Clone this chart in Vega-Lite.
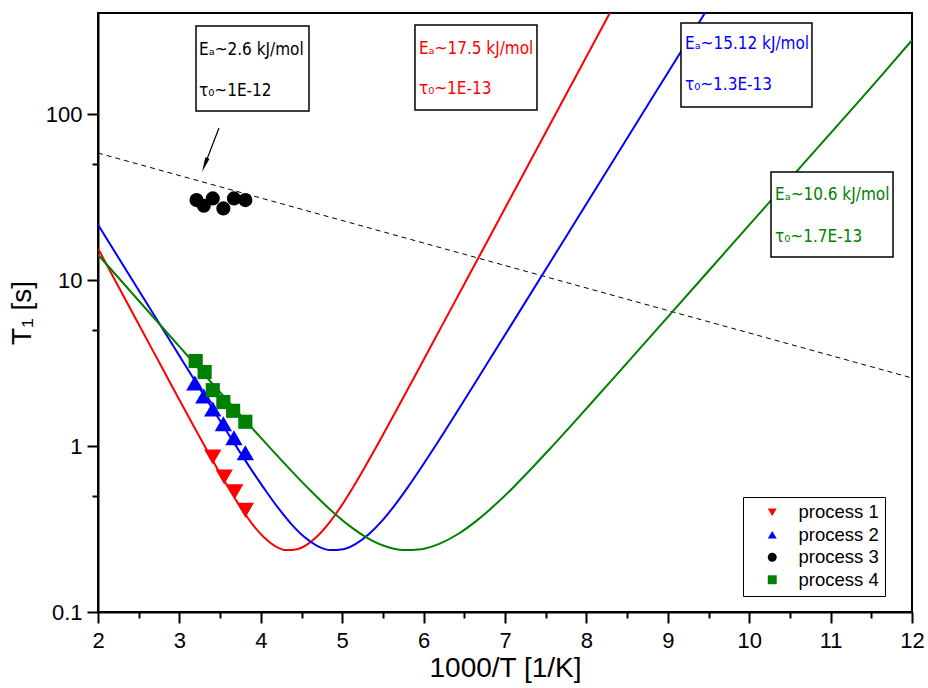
{
  "$schema": "https://vega.github.io/schema/vega-lite/v6.json",
  "width": 814,
  "height": 599,
  "autosize": "none",
  "padding": {"left": 98, "top": 13, "right": 16, "bottom": 76},
  "background": "white",
  "view": {"stroke": "black", "strokeWidth": 2},
  "config": {
    "axis": {"domainColor": "black", "domainWidth": 2, "tickColor": "black", "tickWidth": 2, "labelColor": "black", "titleColor": "black", "labelFont": "Liberation Sans", "titleFont": "Liberation Sans", "labelFontSize": 22, "titleFontSize": 28, "titleFontWeight": "normal", "grid": false, "labelOverlap": false, "labelFlush": false},
    "legend": {"labelFont": "Liberation Sans", "labelFontSize": 18.5, "labelColor": "black"}
  },
  "datasets": {
    "curves": [
      {"process": "process 1", "x": 2, "T": 15.49}, {"process": "process 1", "x": 2.397, "T": 6.71}, {"process": "process 1", "x": 2.671, "T": 3.78}, {"process": "process 1", "x": 2.944, "T": 2.13}, {"process": "process 1", "x": 3.218, "T": 1.206}, {"process": "process 1", "x": 3.491, "T": 0.694}, {"process": "process 1", "x": 3.628, "T": 0.5337}, {"process": "process 1", "x": 3.765, "T": 0.4175}, {"process": "process 1", "x": 3.901, "T": 0.3359}, {"process": "process 1", "x": 4.038, "T": 0.2818}, {"process": "process 1", "x": 4.175, "T": 0.2497}, {"process": "process 1", "x": 4.312, "T": 0.2362}, {"process": "process 1", "x": 4.448, "T": 0.2391}, {"process": "process 1", "x": 4.585, "T": 0.2581}, {"process": "process 1", "x": 4.722, "T": 0.295}, {"process": "process 1", "x": 4.859, "T": 0.3538}, {"process": "process 1", "x": 4.996, "T": 0.4406}, {"process": "process 1", "x": 5.132, "T": 0.563}, {"process": "process 1", "x": 5.269, "T": 0.7322}, {"process": "process 1", "x": 5.406, "T": 0.962}, {"process": "process 1", "x": 5.679, "T": 1.688}, {"process": "process 1", "x": 5.953, "T": 2.99}, {"process": "process 1", "x": 6.226, "T": 5.311}, {"process": "process 1", "x": 6.773, "T": 16.78}, {"process": "process 1", "x": 7.32, "T": 53.06}, {"process": "process 1", "x": 7.868, "T": 167.8}, {"process": "process 1", "x": 8.415, "T": 530.7},
      {"process": "process 2", "x": 2, "T": 21.53}, {"process": "process 2", "x": 2.641, "T": 6.71}, {"process": "process 2", "x": 2.957, "T": 3.78}, {"process": "process 2", "x": 3.273, "T": 2.13}, {"process": "process 2", "x": 3.59, "T": 1.206}, {"process": "process 2", "x": 3.906, "T": 0.694}, {"process": "process 2", "x": 4.065, "T": 0.5337}, {"process": "process 2", "x": 4.223, "T": 0.4175}, {"process": "process 2", "x": 4.381, "T": 0.3359}, {"process": "process 2", "x": 4.539, "T": 0.2818}, {"process": "process 2", "x": 4.697, "T": 0.2497}, {"process": "process 2", "x": 4.856, "T": 0.2362}, {"process": "process 2", "x": 5.014, "T": 0.2391}, {"process": "process 2", "x": 5.172, "T": 0.2581}, {"process": "process 2", "x": 5.33, "T": 0.295}, {"process": "process 2", "x": 5.489, "T": 0.3538}, {"process": "process 2", "x": 5.647, "T": 0.4406}, {"process": "process 2", "x": 5.805, "T": 0.563}, {"process": "process 2", "x": 5.963, "T": 0.7322}, {"process": "process 2", "x": 6.122, "T": 0.962}, {"process": "process 2", "x": 6.438, "T": 1.688}, {"process": "process 2", "x": 6.754, "T": 2.99}, {"process": "process 2", "x": 7.071, "T": 5.311}, {"process": "process 2", "x": 7.704, "T": 16.78}, {"process": "process 2", "x": 8.337, "T": 53.06}, {"process": "process 2", "x": 8.97, "T": 167.8}, {"process": "process 2", "x": 9.603, "T": 530.7},
      {"process": "process 4", "x": 2, "T": 14.22}, {"process": "process 4", "x": 2.588, "T": 6.71}, {"process": "process 4", "x": 3.039, "T": 3.78}, {"process": "process 4", "x": 3.491, "T": 2.13}, {"process": "process 4", "x": 3.942, "T": 1.206}, {"process": "process 4", "x": 4.393, "T": 0.694}, {"process": "process 4", "x": 4.619, "T": 0.5337}, {"process": "process 4", "x": 4.844, "T": 0.4175}, {"process": "process 4", "x": 5.07, "T": 0.3359}, {"process": "process 4", "x": 5.296, "T": 0.2818}, {"process": "process 4", "x": 5.521, "T": 0.2497}, {"process": "process 4", "x": 5.747, "T": 0.2362}, {"process": "process 4", "x": 5.972, "T": 0.2391}, {"process": "process 4", "x": 6.198, "T": 0.2581}, {"process": "process 4", "x": 6.424, "T": 0.295}, {"process": "process 4", "x": 6.649, "T": 0.3538}, {"process": "process 4", "x": 6.875, "T": 0.4406}, {"process": "process 4", "x": 7.101, "T": 0.563}, {"process": "process 4", "x": 7.326, "T": 0.7322}, {"process": "process 4", "x": 7.552, "T": 0.962}, {"process": "process 4", "x": 8.003, "T": 1.688}, {"process": "process 4", "x": 8.454, "T": 2.99}, {"process": "process 4", "x": 8.906, "T": 5.311}, {"process": "process 4", "x": 9.808, "T": 16.78}, {"process": "process 4", "x": 10.711, "T": 53.06}, {"process": "process 4", "x": 11.613, "T": 167.8}, {"process": "process 4", "x": 12, "T": 278.6}
    ],
    "points": [
      {"process": "process 1", "x": 3.41, "T": 0.86}, {"process": "process 1", "x": 3.55, "T": 0.65}, {"process": "process 1", "x": 3.68, "T": 0.53}, {"process": "process 1", "x": 3.81, "T": 0.41},
      {"process": "process 2", "x": 3.19, "T": 2.4}, {"process": "process 2", "x": 3.3, "T": 2.0}, {"process": "process 2", "x": 3.41, "T": 1.67}, {"process": "process 2", "x": 3.54, "T": 1.36}, {"process": "process 2", "x": 3.67, "T": 1.12}, {"process": "process 2", "x": 3.81, "T": 0.91},
      {"process": "process 3", "x": 3.21, "T": 30.3}, {"process": "process 3", "x": 3.3, "T": 28.0}, {"process": "process 3", "x": 3.41, "T": 31.0}, {"process": "process 3", "x": 3.54, "T": 27.0}, {"process": "process 3", "x": 3.67, "T": 31.0}, {"process": "process 3", "x": 3.81, "T": 30.3},
      {"process": "process 4", "x": 3.2, "T": 3.25}, {"process": "process 4", "x": 3.31, "T": 2.79}, {"process": "process 4", "x": 3.41, "T": 2.17}, {"process": "process 4", "x": 3.54, "T": 1.84}, {"process": "process 4", "x": 3.66, "T": 1.63}, {"process": "process 4", "x": 3.81, "T": 1.4}
    ],
    "dashed": [{"x": 2, "T": 58.2}, {"x": 12, "T": 2.57}],
    "boxes": [
      {"x1": 3.204, "x2": 4.592, "y1": 338.8, "y2": 104.3},
      {"x1": 5.894, "x2": 7.393, "y1": 343.6, "y2": 105.7},
      {"x1": 9.162, "x2": 10.771, "y1": 353, "y2": 110.2},
      {"x1": 10.268, "x2": 11.767, "y1": 44.8, "y2": 13.76}
    ],
    "labels": [
      {"process": "process 3", "x": 3.241, "T": 243, "label": "Eₐ~2.6 kJ/mol"},
      {"process": "process 3", "x": 3.241, "T": 137.7, "label": "τ₀~1E-12"},
      {"process": "process 1", "x": 5.943, "T": 248, "label": "Eₐ~17.5 kJ/mol"},
      {"process": "process 1", "x": 5.943, "T": 141.6, "label": "τ₀~1E-13"},
      {"process": "process 2", "x": 9.211, "T": 264, "label": "Eₐ~15.12 kJ/mol"},
      {"process": "process 2", "x": 9.211, "T": 149.6, "label": "τ₀~1.3E-13"},
      {"process": "process 4", "x": 10.317, "T": 32.5, "label": "Eₐ~10.6 kJ/mol"},
      {"process": "process 4", "x": 10.317, "T": 18.2, "label": "τ₀~1.7E-13"}
    ],
    "arrow": [{"x": 3.486, "T": 82.4, "xe": 3.311, "Te": 49.3}]
  },
  "layer": [
    {
      "layer": [
        {
          "data": {"name": "dashed"},
          "mark": {"type": "line", "color": "black", "strokeWidth": 1, "strokeDash": [5, 4]},
          "encoding": {
            "x": {"field": "x", "type": "quantitative", "scale": {"domain": [2, 12], "nice": false, "zero": false}, "axis": null},
            "y": {"field": "T", "type": "quantitative", "scale": {"type": "log", "domain": [0.1, 406], "nice": false}, "axis": null}
          }
        },
        {
          "data": {"name": "curves"},
          "transform": [{"filter": "datum.process == 'process 1'"}],
          "mark": {"type": "line", "strokeWidth": 2, "interpolate": "monotone", "clip": true, "color": "#ff0000"},
          "encoding": {
            "x": {"field": "x", "type": "quantitative", "axis": null},
            "y": {"field": "T", "type": "quantitative", "axis": null}
          }
        },
        {
          "data": {"name": "curves"},
          "transform": [{"filter": "datum.process == 'process 2'"}],
          "mark": {"type": "line", "strokeWidth": 2, "interpolate": "monotone", "clip": true, "color": "#0000ff"},
          "encoding": {
            "x": {"field": "x", "type": "quantitative", "axis": null},
            "y": {"field": "T", "type": "quantitative", "axis": null}
          }
        },
        {
          "data": {"name": "curves"},
          "transform": [{"filter": "datum.process == 'process 4'"}],
          "mark": {"type": "line", "strokeWidth": 2, "interpolate": "monotone", "clip": true, "color": "#008000"},
          "encoding": {
            "x": {"field": "x", "type": "quantitative", "axis": null},
            "y": {"field": "T", "type": "quantitative", "axis": null}
          }
        },
        {
          "data": {"name": "points"},
          "transform": [{"filter": "datum.process == 'process 1' || datum.process == 'process 2'"}],
          "mark": {"type": "point", "filled": true, "opacity": 1, "size": 300},
          "encoding": {
            "x": {"field": "x", "type": "quantitative", "axis": null},
            "y": {"field": "T", "type": "quantitative", "axis": null},
            "color": {"field": "process", "type": "nominal",
                      "scale": {"domain": ["process 1", "process 2", "process 3", "process 4"], "range": ["#ff0000", "#0000ff", "#000000", "#008000"]},
                      "legend": {"title": null, "orient": "none", "legendX": 645, "legendY": 484, "strokeColor": "black", "fillColor": "white", "padding": 6, "symbolSize": 80, "symbolOffset": 14, "labelOffset": 17, "rowPadding": 3.5}},
            "shape": {"field": "process", "type": "nominal",
                      "scale": {"domain": ["process 1", "process 2", "process 3", "process 4"], "range": ["triangle-down", "triangle-up", "circle", "square"]}}
          }
        },
        {
          "data": {"name": "points"},
          "transform": [{"filter": "datum.process == 'process 3' || datum.process == 'process 4'"}],
          "mark": {"type": "point", "filled": true, "opacity": 1, "size": 200},
          "encoding": {
            "x": {"field": "x", "type": "quantitative", "axis": null},
            "y": {"field": "T", "type": "quantitative", "axis": null},
            "color": {"field": "process", "type": "nominal",
                      "scale": {"domain": ["process 1", "process 2", "process 3", "process 4"], "range": ["#ff0000", "#0000ff", "#000000", "#008000"]},
                      "legend": {"title": null, "orient": "none", "legendX": 645, "legendY": 484, "strokeColor": "black", "fillColor": "white", "padding": 6, "symbolSize": 80, "symbolOffset": 14, "labelOffset": 17, "rowPadding": 3.5}},
            "shape": {"field": "process", "type": "nominal",
                      "scale": {"domain": ["process 1", "process 2", "process 3", "process 4"], "range": ["triangle-down", "triangle-up", "circle", "square"]}}
          }
        },
        {
          "data": {"name": "boxes"},
          "mark": {"type": "rect", "fill": "white", "stroke": "black", "strokeWidth": 1.5},
          "encoding": {
            "x": {"field": "x1", "type": "quantitative", "axis": null},
            "x2": {"field": "x2"},
            "y": {"field": "y1", "type": "quantitative", "axis": null},
            "y2": {"field": "y2"}
          }
        },
        {
          "data": {"name": "labels"},
          "transform": [{"filter": "datum.process == 'process 3'"}],
          "mark": {"type": "text", "align": "left", "baseline": "middle", "font": "DejaVu Sans Condensed, Liberation Sans", "fontSize": 17, "color": "#000000"},
          "encoding": {
            "x": {"field": "x", "type": "quantitative", "axis": null},
            "y": {"field": "T", "type": "quantitative", "axis": null},
            "text": {"field": "label"}
          }
        },
        {
          "data": {"name": "labels"},
          "transform": [{"filter": "datum.process == 'process 1'"}],
          "mark": {"type": "text", "align": "left", "baseline": "middle", "font": "DejaVu Sans Condensed, Liberation Sans", "fontSize": 17, "color": "#ff0000"},
          "encoding": {
            "x": {"field": "x", "type": "quantitative", "axis": null},
            "y": {"field": "T", "type": "quantitative", "axis": null},
            "text": {"field": "label"}
          }
        },
        {
          "data": {"name": "labels"},
          "transform": [{"filter": "datum.process == 'process 2'"}],
          "mark": {"type": "text", "align": "left", "baseline": "middle", "font": "DejaVu Sans Condensed, Liberation Sans", "fontSize": 17, "color": "#0000ff"},
          "encoding": {
            "x": {"field": "x", "type": "quantitative", "axis": null},
            "y": {"field": "T", "type": "quantitative", "axis": null},
            "text": {"field": "label"}
          }
        },
        {
          "data": {"name": "labels"},
          "transform": [{"filter": "datum.process == 'process 4'"}],
          "mark": {"type": "text", "align": "left", "baseline": "middle", "font": "DejaVu Sans Condensed, Liberation Sans", "fontSize": 17, "color": "#008000"},
          "encoding": {
            "x": {"field": "x", "type": "quantitative", "axis": null},
            "y": {"field": "T", "type": "quantitative", "axis": null},
            "text": {"field": "label"}
          }
        },
        {
          "data": {"name": "arrow"},
          "mark": {"type": "rule", "color": "black", "strokeWidth": 1.2},
          "encoding": {
            "x": {"field": "x", "type": "quantitative", "axis": null},
            "y": {"field": "T", "type": "quantitative", "axis": null},
            "x2": {"field": "xe"},
            "y2": {"field": "Te"}
          }
        },
        {
          "data": {"name": "arrow"},
          "mark": {"type": "point", "shape": "M0,1L-0.3,-1L0.3,-1Z", "angle": 21, "size": 225, "filled": true, "color": "black", "opacity": 1},
          "encoding": {
            "x": {"field": "xe", "type": "quantitative", "axis": null},
            "y": {"field": "Te", "type": "quantitative", "axis": null}
          }
        }
      ]
    },
    {
      "data": {"name": "dashed"},
      "mark": {"type": "point", "opacity": 0},
      "encoding": {
        "x": {"field": "x", "type": "quantitative", "scale": {"domain": [2, 12], "nice": false, "zero": false},
              "axis": {"orient": "bottom", "values": [2, 3, 4, 5, 6, 7, 8, 9, 10, 11, 12], "format": "d", "tickSize": 11, "labelPadding": 7, "title": "1000/T [1/K]", "titlePadding": 3}},
        "y": {"field": "T", "type": "quantitative", "scale": {"type": "log", "domain": [0.1, 406], "nice": false},
              "axis": {"orient": "left", "values": [0.1, 1, 10, 100], "format": "~g", "tickSize": 11, "labelPadding": 5, "title": "T₁ [s]", "titlePadding": 9}}
      }
    },
    {
      "data": {"name": "dashed"},
      "mark": {"type": "point", "opacity": 0},
      "encoding": {
        "x": {"field": "x", "type": "quantitative", "scale": {"domain": [2, 12], "nice": false, "zero": false},
              "axis": {"orient": "bottom", "values": [2.5, 3.5, 4.5, 5.5, 6.5, 7.5, 8.5, 9.5, 10.5, 11.5], "labels": false, "domain": false, "tickSize": 6, "title": null}},
        "y": {"field": "T", "type": "quantitative", "scale": {"type": "log", "domain": [0.1, 406], "nice": false},
              "axis": {"orient": "left", "values": [0.5, 5, 50], "labels": false, "domain": false, "tickSize": 6, "title": null}}
      }
    }
  ],
  "resolve": {"axis": {"x": "independent", "y": "independent"}}
}
